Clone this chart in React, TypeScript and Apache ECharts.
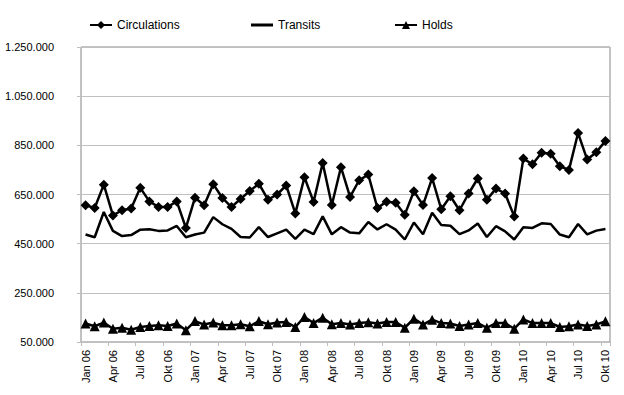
import React, { useEffect, useRef } from "react";
import * as echarts from "echarts";

const months = ["Jan", "Feb", "Mrz", "Apr", "Mai", "Jun", "Jul", "Aug", "Sep", "Okt", "Nov", "Dez"];
const years = ["06", "07", "08", "09", "10"];
const categories: string[] = [];
for (const y of years) {
  for (const m of months) {
    if (y === "10" && (m === "Nov" || m === "Dez")) continue;
    categories.push(`${m} ${y}`);
  }
}

const circulations = [
  606000, 595000, 690000, 565000, 586000, 593000, 677000, 622000, 599000, 599000, 622000, 514000,
  637000, 606000, 692000, 636000, 599000, 632000, 664000, 694000, 629000, 650000, 687000, 573000,
  720000, 620000, 778000, 607000, 761000, 640000, 708000, 731000, 595000, 621000, 616000, 568000,
  663000, 607000, 717000, 590000, 643000, 586000, 654000, 715000, 629000, 674000, 654000, 561000,
  796000, 773000, 820000, 816000, 765000, 750000, 900000, 792000, 822000, 868000,
];

const transits = [
  487000, 476000, 579000, 502000, 481000, 485000, 507000, 509000, 502000, 504000, 522000, 476000,
  487000, 495000, 558000, 529000, 510000, 477000, 475000, 517000, 477000, 492000, 507000, 469000,
  507000, 489000, 561000, 488000, 517000, 495000, 492000, 538000, 508000, 529000, 507000, 467000,
  536000, 488000, 576000, 526000, 523000, 489000, 504000, 532000, 477000, 521000, 500000, 467000,
  517000, 514000, 533000, 530000, 487000, 476000, 530000, 488000, 503000, 510000,
];

const holds = [
  125000, 114000, 129000, 104000, 108000, 100000, 111000, 115000, 118000, 115000, 125000, 98000,
  135000, 121000, 129000, 118000, 118000, 122000, 114000, 135000, 122000, 129000, 131000, 111000,
  152000, 127000, 149000, 122000, 127000, 121000, 127000, 130000, 125000, 131000, 131000, 108000,
  145000, 121000, 141000, 127000, 125000, 115000, 121000, 127000, 108000, 127000, 127000, 104000,
  142000, 127000, 127000, 127000, 111000, 114000, 121000, 115000, 121000, 134000,
];

const yMin = 50000;
const yMax = 1250000;
const yStep = 200000;

const FONT = "Liberation Sans";

function fmt(v: number): string {
  return String(Math.round(v)).replace(/\B(?=(\d{3})+(?!\d))/g, ".");
}

export default function App() {
  const ref = useRef<HTMLDivElement>(null);
  useEffect(() => {
    if (!ref.current) return;
    const chart = echarts.init(ref.current, undefined, { renderer: "svg" });
    const legendBase = {
      top: 14,
      itemWidth: 22,
      itemHeight: 10,
      textStyle: { fontFamily: FONT, fontSize: 12, color: "#000" },
    };
    chart.setOption({
      animation: false,
      backgroundColor: "#fff",
      legend: [
        { ...legendBase, left: 84, data: ["Circulations"] },
        {
          ...legendBase,
          left: 246,
          itemHeight: 3,
          data: [{ name: "Transits", icon: "rect" }],
        },
        { ...legendBase, left: 389, data: ["Holds"] },
      ],
      grid: {
        left: 81,
        right: 14,
        top: 47,
        bottom: 53,
        show: true,
        borderColor: "#878787",
        borderWidth: 1,
        backgroundColor: "transparent",
      },
      xAxis: {
        type: "category",
        data: categories,
        boundaryGap: true,
        axisLine: { lineStyle: { color: "#bfbfbf", width: 1 } },
        axisTick: { show: true, interval: 2, length: 4, lineStyle: { color: "#bfbfbf" } },
        axisLabel: {
          interval: 2,
          rotate: 90,
          margin: 8,
          fontFamily: FONT,
          fontSize: 11,
          color: "#000",
        },
        splitLine: { show: false },
      },
      yAxis: {
        type: "value",
        min: yMin,
        max: yMax,
        interval: yStep,
        axisLine: { show: true, lineStyle: { color: "#bfbfbf", width: 1 } },
        axisTick: { show: true, length: 4, lineStyle: { color: "#bfbfbf" } },
        axisLabel: {
          formatter: (v: number) => fmt(v),
          margin: 27,
          fontFamily: FONT,
          fontSize: 11,
          color: "#000",
        },
        splitLine: { show: true, lineStyle: { color: "#c0c0c0", width: 1 } },
      },
      series: [
        {
          name: "Circulations",
          type: "line",
          data: circulations,
          symbol: "diamond",
          symbolSize: 10,
          showAllSymbol: true,
          itemStyle: { color: "#000" },
          lineStyle: { color: "#000", width: 2.5 },
        },
        {
          name: "Transits",
          type: "line",
          data: transits,
          symbol: "none",
          itemStyle: { color: "#000" },
          lineStyle: { color: "#000", width: 2.5 },
        },
        {
          name: "Holds",
          type: "line",
          data: holds,
          symbol: "triangle",
          symbolSize: 10,
          showAllSymbol: true,
          itemStyle: { color: "#000" },
          lineStyle: { color: "#000", width: 2.5 },
        },
      ],
    });
    return () => chart.dispose();
  }, []);
  return (
    <div
      ref={ref}
      style={{ position: "fixed", left: 0, top: 0, width: 624, height: 395, background: "#fff" }}
    />
  );
}
